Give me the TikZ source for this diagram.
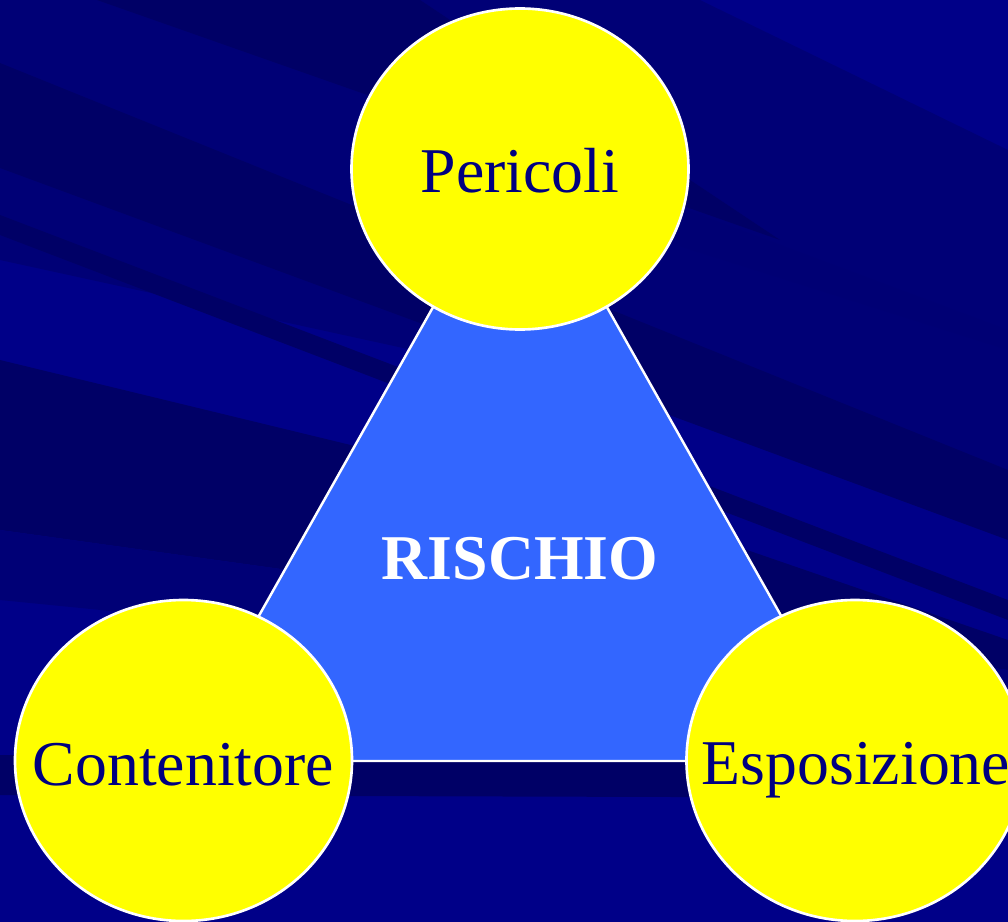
\documentclass[tikz,border=0pt]{standalone}
\usepackage{fontspec}
\setmainfont{Liberation Serif}
\usetikzlibrary{shapes.geometric}
\definecolor{bgbase}{HTML}{000088}
\definecolor{bgdark}{HTML}{000066}
\definecolor{bgmid}{HTML}{000076}
\definecolor{tri}{HTML}{3366FF}
\definecolor{txt}{HTML}{000080}
\definecolor{blobfill}{HTML}{FFFF00}
\tikzset{
  blob/.style={ellipse, draw=white, line width=1.5pt, fill=blobfill, minimum width=337*0.02cm, minimum height=321*0.02cm, inner sep=0pt},
  lbl/.style={anchor=base, text=txt, font=\fontsize{36.3}{40}\selectfont, inner sep=0pt},
}
\begin{document}
\begin{tikzpicture}[x=0.02cm, y=-0.02cm]
\useasboundingbox (0,0) rectangle (1008,922);
\clip (0,0) rectangle (1008,922);
% background
\fill[bgbase] (0,0) rectangle (1008,922);
\fill[bgmid] (0,0) -- (700,0) -- (1008,150) -- (1008,480) -- (0,260) -- cycle;
\fill[bgdark] (97,0) -- (420,0) -- (780,240) -- cycle;
\fill[bgdark] (0,63) -- (1008,470) -- (1008,540) -- (0,168) -- cycle;
\fill[bgdark] (0,215) -- (1008,600) -- (1008,620) -- (0,235) -- cycle;
\fill[bgdark] (0,360) -- (660,520) -- (1008,640) -- (1008,670) -- (0,530) -- cycle;
\fill[bgmid] (0,530) -- (1008,670) -- (1008,700) -- (0,600) -- cycle;
\fill[bgdark!60!bgbase] (660,200) -- (1008,330) -- (1008,350) -- (660,240) -- cycle;
\fill[bgdark] (0,755) -- (1008,758) -- (1008,798) -- (0,795) -- cycle;
% triangle
\coordinate (A) at (520,153);
\coordinate (B) at (177,761);
\coordinate (C) at (863,761);
\draw[fill=tri, draw=white, line width=1.4pt, line join=miter] (A) -- (B) -- (C) -- cycle;
\node[anchor=base, text=white, font=\fontsize{36.3}{40}\selectfont\bfseries, inner sep=0pt] (risk) at (520,579) {RISCHIO};
% circles
\node[blob] (top) at (520,169) {};
\node[blob] (left) at (183.5,760.5) {};
\node[blob] (right) at (855,760.5) {};
\node[lbl] (tPer) at (520,193) {Pericoli};
\node[lbl] (tCon) at (183.5,785) {Contenitore};
\node[lbl] (tEsp) at (856,784) {Esposizione};
\end{tikzpicture}
\end{document}
